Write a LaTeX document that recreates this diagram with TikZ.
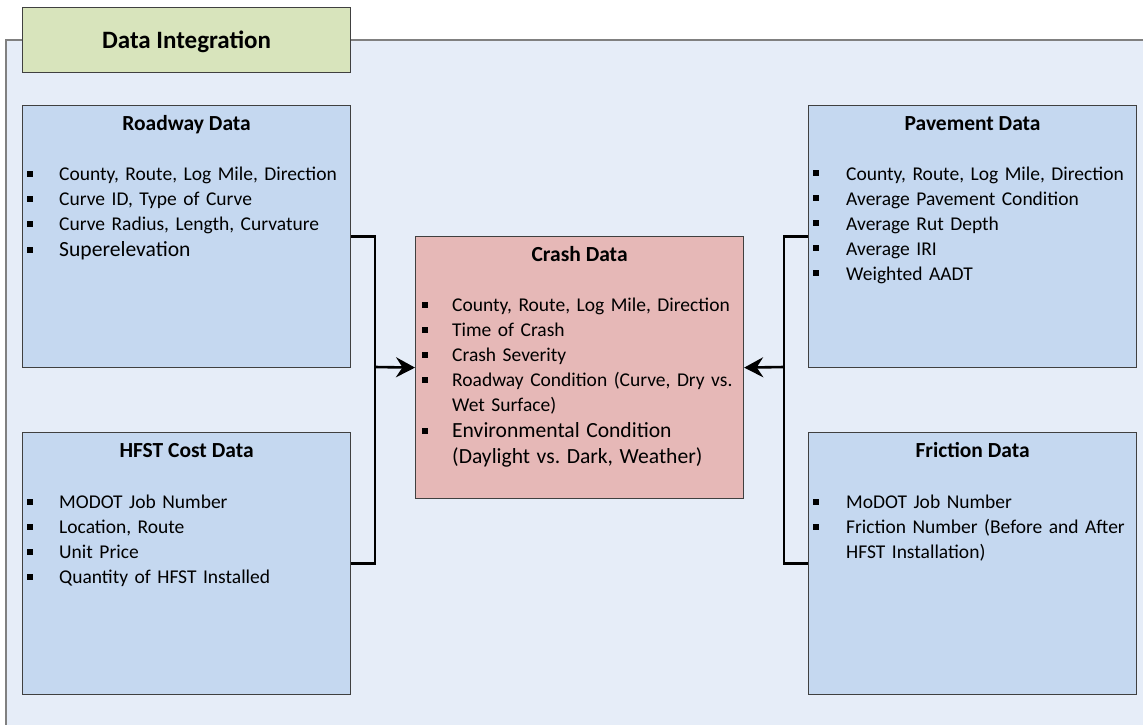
\documentclass[tikz,border=0pt]{standalone}
\usepackage{fontspec}
\setmainfont{Carlito}
\usetikzlibrary{arrows.meta}
\frenchspacing
\definecolor{panelfill}{RGB}{230,237,248}
\definecolor{panelline}{RGB}{128,128,128}
\definecolor{boxblue}{RGB}{197,216,240}
\definecolor{boxred}{RGB}{230,184,183}
\definecolor{boxgreen}{RGB}{216,228,188}
\definecolor{boxline}{RGB}{64,64,64}
\newcommand{\bitem}[2]{\par\hyphenpenalty=10000\frenchspacing\noindent\hangindent=#1\hangafter=1\makebox[#1][l]{\rule[4pt]{6pt}{6pt}}\rule{0pt}{16pt}#2\par}
\newcommand{\bigitem}[2]{{\fontsize{21.6}{26}\selectfont\bitem{#1}{#2}}}
\tikzset{
  databox/.style={draw=boxline, line width=1.2pt, rectangle, inner sep=0pt,
    minimum width=328pt, minimum height=262pt, anchor=north west},
  boxtitle/.style={anchor=base, inner sep=0pt, font=\bfseries\fontsize{21.5}{26}\selectfont},
  listtext/.style={anchor=north west, inner sep=0pt, text width=420pt, align=left,
    font=\fontsize{19.5}{25}\selectfont},
  conn/.style={line width=2.6pt, black},
  arr/.style={conn, -{Stealth[length=19pt,width=20pt,inset=6.5pt]}}
}
\begin{document}
\begin{tikzpicture}[x=1pt,y=-1pt]
\useasboundingbox (0,0) rectangle (1143,724);
\fill[white] (0,0) rectangle (1143,724);
% outer panel
\draw[draw=panelline, line width=1.8pt, fill=panelfill] (6,40) rectangle (1170,760);
% title tab
\node[draw=boxline, line width=1.2pt, fill=boxgreen, rectangle, inner sep=0pt,
  minimum width=328pt, minimum height=65pt, anchor=north west] (ttl) at (22,7) {};
\node[anchor=base, inner sep=0pt, font=\bfseries\fontsize{25}{30}\selectfont]
  (ttltext) at ([yshift=-41pt]ttl.north) {Data Integration};
% boxes
\node[databox, fill=boxblue] (road) at (22,105) {};
\node[databox, fill=boxblue] (hfst) at (22,432) {};
\node[databox, fill=boxred]  (crash) at (415,236) {};
\node[databox, fill=boxblue] (pave) at (808,105) {};
\node[databox, fill=boxblue] (fric) at (808,432) {};
% titles
\node[boxtitle] (roadt) at ([yshift=-25pt]road.north) {Roadway Data};
\node[boxtitle] (hfstt) at ([yshift=-25pt]hfst.north) {HFST Cost Data};
\node[boxtitle] (crasht) at ([yshift=-25pt]crash.north) {Crash Data};
\node[boxtitle] (pavet) at ([yshift=-25pt]pave.north) {Pavement Data};
\node[boxtitle] (frict) at ([yshift=-25pt]fric.north) {Friction Data};
% lists
\node[listtext] (roadl) at ([xshift=5pt,yshift=-50.5pt]road.north west) {%
  \bitem{32pt}{County, Route, Log Mile, Direction}
  \bitem{32pt}{Curve ID, Type of Curve}
  \bitem{32pt}{Curve Radius, Length, Curvature}
  \bigitem{32pt}{Superelevation}};
\node[listtext] (hfstl) at ([xshift=5pt,yshift=-51.5pt]hfst.north west) {%
  \bitem{32pt}{MODOT Job Number}
  \bitem{32pt}{Location, Route}
  \bitem{32pt}{Unit Price}
  \bitem{32pt}{Quantity of HFST Installed}};
\node[listtext] (crashl) at ([xshift=7pt,yshift=-50.5pt]crash.north west) {%
  \bitem{30pt}{County, Route, Log Mile, Direction}
  \bitem{30pt}{Time of Crash}
  \bitem{30pt}{Crash Severity}
  \bitem{30pt}{Roadway Condition (Curve, Dry vs.\newline Wet Surface)}
  \bigitem{30pt}{Environmental Condition\newline (Daylight vs. Dark, Weather)}};
\node[listtext] (pavel) at ([xshift=5pt,yshift=-50pt]pave.north west) {%
  \bitem{33pt}{County, Route, Log Mile, Direction}
  \bitem{33pt}{Average Pavement Condition}
  \bitem{33pt}{Average Rut Depth}
  \bitem{33pt}{Average IRI}
  \bitem{33pt}{Weighted AADT}};
\node[listtext] (fricl) at ([xshift=5pt,yshift=-51.5pt]fric.north west) {%
  \bitem{33pt}{MoDOT Job Number}
  \bitem{33pt}{Friction Number (Before and After\newline HFST Installation)}};
% connectors
\coordinate (jl) at (375,367);
\coordinate (jr) at (784,367);
\draw[conn] (road.east) -| (jl) |- (hfst.east);
\draw[conn] (pave.west) -| (jr) |- (fric.west);
\draw[arr] (jl) -- (crash.west);
\draw[arr] (jr) -- (crash.east);
\end{tikzpicture}
\end{document}
